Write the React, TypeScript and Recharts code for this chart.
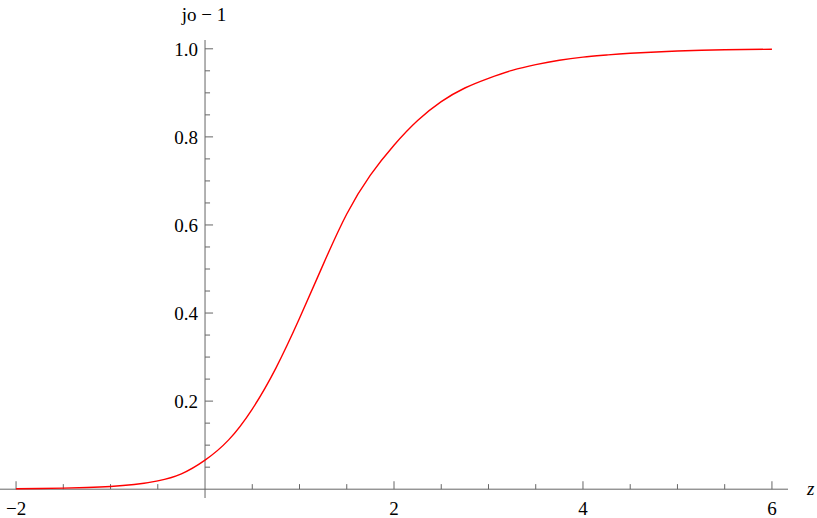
import React from 'react';
import { LineChart, Line, XAxis, YAxis, ReferenceLine } from 'recharts';

const xValues = [-2, -1.75, -1.5, -1.25, -1, -0.75, -0.5, -0.25, 0, 0.25, 0.5, 0.75, 1, 1.25, 1.5, 1.75, 2, 2.25, 2.5, 2.75, 3, 3.25, 3.5, 3.75, 4, 4.25, 4.5, 5, 5.5, 6];
const yValues = [0.001, 0.0016, 0.0025, 0.0038, 0.006, 0.0105, 0.019, 0.035, 0.066, 0.112, 0.182, 0.275, 0.388, 0.51, 0.625, 0.713, 0.781, 0.837, 0.88, 0.911, 0.933, 0.951, 0.964, 0.974, 0.981, 0.986, 0.99, 0.995, 0.998, 0.999];

const xMajorTicks = [-2, 2, 4, 6];
const xMinorTicks = [-1.5, -1, -0.5, 0.5, 1, 1.5, 2.5, 3, 3.5, 4.5, 5, 5.5];
const yMajorTicks = [0.2, 0.4, 0.6, 0.8, 1.0];
const yMinorTicks = [0.05, 0.1, 0.15, 0.25, 0.3, 0.35, 0.45, 0.5, 0.55, 0.65, 0.7, 0.75, 0.85, 0.9, 0.95];

const xLabel = 'z';
const yLabel = 'jo \u2212 1';

const data = xValues.map((x, i) => ({ x, y: yValues[i] }));

const FONT = 'Liberation Serif';
const FS = 19;
const AXIS = '#666666';
const X_DOMAIN: [number, number] = [-2.17, 6.17];
const Y_DOMAIN: [number, number] = [-0.02, 1.02];
const X_TICK_MAJOR = 0.018;
const X_TICK_MINOR = 0.0115;
const Y_TICK_MAJOR = 0.085;
const Y_TICK_MINOR = 0.053;

const fmtX = (v: number) => (v < 0 ? '\u2212' + Math.abs(v) : String(v));

const textStyle = { fontFamily: FONT, fontSize: FS, fill: '#000' } as const;

const bottomLabel = (value: string) => (props: any) => {
  const vb = props.viewBox || {};
  return (
    <text x={vb.x + (vb.width || 0) / 2} y={vb.y + (vb.height || 0) + 26} textAnchor="middle" style={textStyle}>
      {value}
    </text>
  );
};

const leftLabel = (value: string) => (props: any) => {
  const vb = props.viewBox || {};
  return (
    <text x={vb.x - 7} y={vb.y + (vb.height || 0) / 2 + 7} textAnchor="end" style={textStyle}>
      {value}
    </text>
  );
};

const topLabel = (value: string) => (props: any) => {
  const vb = props.viewBox || {};
  return (
    <text x={vb.x + (vb.width || 0) / 2 - 1} y={vb.y - 19} textAnchor="middle" style={textStyle}>
      {value}
    </text>
  );
};

const rightLabel = (value: string) => (props: any) => {
  const vb = props.viewBox || {};
  return (
    <text x={vb.x + (vb.width || 0) + 19} y={vb.y + (vb.height || 0) / 2 + 6} textAnchor="start" style={{ ...textStyle, fontStyle: 'italic' }}>
      {value}
    </text>
  );
};

export default function App() {
  return (
    <div style={{ position: 'absolute', left: 0, top: 0, background: '#fff' }}>
      <LineChart
        width={817}
        height={518}
        data={data}
        margin={{ top: 40, right: 29, bottom: 20, left: 0 }}
      >
        <XAxis type="number" dataKey="x" domain={X_DOMAIN} hide allowDataOverflow />
        <YAxis type="number" domain={Y_DOMAIN} hide allowDataOverflow />
        <ReferenceLine y={0} stroke={AXIS} strokeWidth={1} label={rightLabel(xLabel)} />
        <ReferenceLine x={0} stroke={AXIS} strokeWidth={1} label={topLabel(yLabel)} />
        {xMajorTicks.map((v) => (
          <ReferenceLine
            key={'xM' + v}
            segment={[{ x: v, y: 0 }, { x: v, y: X_TICK_MAJOR }]}
            stroke={AXIS}
            label={bottomLabel(fmtX(v))}
          />
        ))}
        {xMinorTicks.map((v) => (
          <ReferenceLine key={'xm' + v} segment={[{ x: v, y: 0 }, { x: v, y: X_TICK_MINOR }]} stroke={AXIS} />
        ))}
        {yMajorTicks.map((v) => (
          <ReferenceLine
            key={'yM' + v}
            segment={[{ x: 0, y: v }, { x: Y_TICK_MAJOR, y: v }]}
            stroke={AXIS}
            label={leftLabel(v.toFixed(1))}
          />
        ))}
        {yMinorTicks.map((v) => (
          <ReferenceLine key={'ym' + v} segment={[{ x: 0, y: v }, { x: Y_TICK_MINOR, y: v }]} stroke={AXIS} />
        ))}
        <Line
          type="natural"
          dataKey="y"
          stroke="#ff0000"
          strokeWidth={1.4}
          dot={false}
          isAnimationActive={false}
        />
      </LineChart>
    </div>
  );
}
